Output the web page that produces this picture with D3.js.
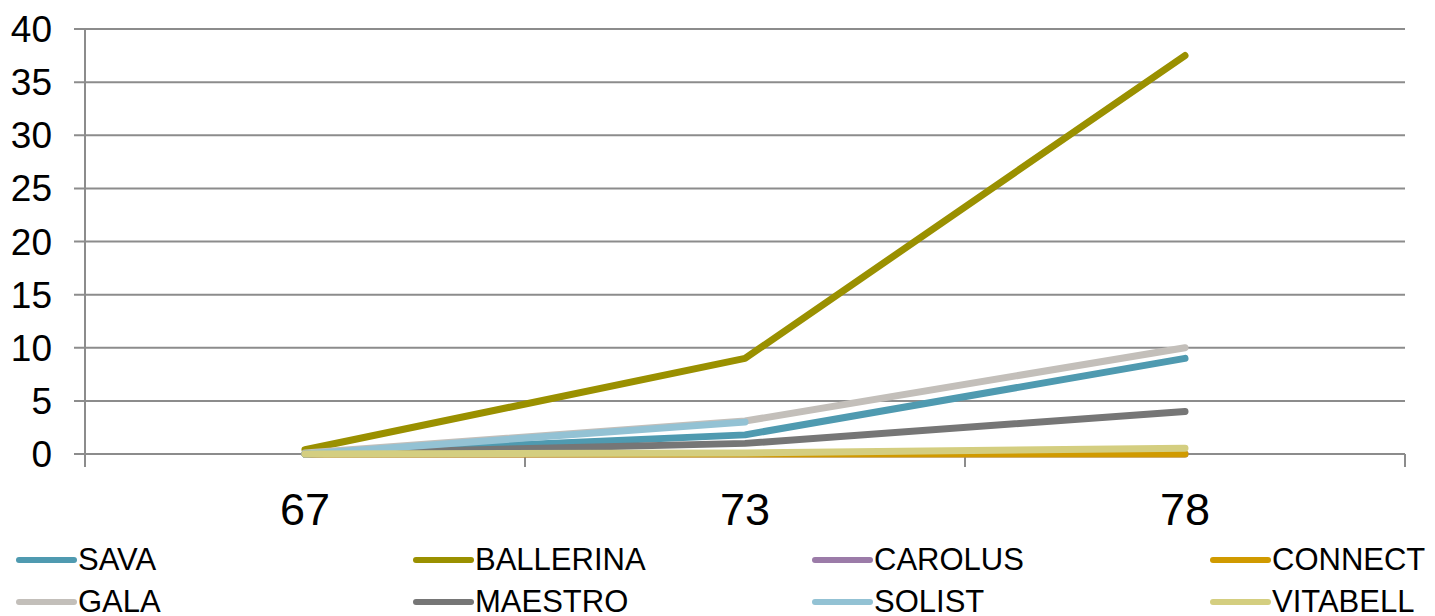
<html>
<head>
<script src="https://d3js.org/d3.v7.min.js"></script>
<style>
  body { margin: 0; background: #fff; }
  text { font-family: "Liberation Sans", Arial, sans-serif; fill: #000; }
</style>
</head>
<body>
<div id="chart"></div>
<script>
// categories on the x axis
const categories = ["67", "73", "78"];

// series, in drawing order
const seriesNames = ["SAVA", "BALLERINA", "CAROLUS", "CONNECT", "GALA", "MAESTRO", "SOLIST", "VITABELL"];
const seriesColors = ["#4f9ab0", "#9a9000", "#9b7ba8", "#d09a00", "#c3bfba", "#767676", "#93c2d4", "#d4ce80"];

const sava      = [0, 1.8, 9];
const ballerina = [0.4, 9, 37.5];
const carolus   = [0, 0, 0];
const connect   = [0, 0, 0];
const gala      = [0.1, 3.1, 10];
const maestro   = [0, 1, 4];
const solist    = [0, 3, null];
const vitabell  = [0, 0.1, 0.55];
const seriesValues = [sava, ballerina, carolus, connect, gala, maestro, solist, vitabell];

const yTicks = [0, 5, 10, 15, 20, 25, 30, 35, 40];

const W = 1435, H = 616;
const plot = { left: 85, right: 1405, top: 29, bottom: 454 };

const svg = d3.select("#chart").append("svg")
  .attr("width", W).attr("height", H);

const x = d3.scaleBand().domain(categories).range([plot.left, plot.right]);
const y = d3.scaleLinear().domain([0, 40]).range([plot.bottom, plot.top]);

// gridlines + y ticks
svg.append("g").selectAll("line")
  .data(yTicks).enter().append("line")
  .attr("x1", plot.left - 11).attr("x2", plot.right)
  .attr("y1", d => y(d)).attr("y2", d => y(d))
  .attr("stroke", "#8c8c8c").attr("stroke-width", 2);

svg.append("g").selectAll("text")
  .data(yTicks).enter().append("text")
  .attr("x", 52).attr("y", d => y(d) + 13)
  .attr("text-anchor", "end")
  .style("font-size", "37px")
  .text(d => d);

// y axis line
svg.append("line")
  .attr("x1", plot.left).attr("x2", plot.left)
  .attr("y1", plot.top).attr("y2", plot.bottom + 8)
  .attr("stroke", "#8c8c8c").attr("stroke-width", 2);

// x tick marks at band edges
const edges = categories.map(c => x(c)).concat([plot.right]);
svg.append("g").selectAll("line")
  .data(edges).enter().append("line")
  .attr("x1", d => d).attr("x2", d => d)
  .attr("y1", plot.bottom).attr("y2", plot.bottom + 13)
  .attr("stroke", "#8c8c8c").attr("stroke-width", 2);

svg.append("g").selectAll("text")
  .data(categories).enter().append("text")
  .attr("x", d => x(d) + x.bandwidth() / 2)
  .attr("y", 525)
  .attr("text-anchor", "middle")
  .style("font-size", "45px")
  .text(d => d);

// lines
const line = d3.line()
  .defined(d => d.v !== null)
  .x(d => x(d.c) + x.bandwidth() / 2)
  .y(d => y(d.v));

seriesNames.forEach((name, i) => {
  const pts = categories.map((c, j) => ({ c: c, v: seriesValues[i][j] }));
  svg.append("path")
    .datum(pts)
    .attr("d", line)
    .attr("fill", "none")
    .attr("stroke", seriesColors[i])
    .attr("stroke-width", 7)
    .attr("stroke-linecap", "round")
    .attr("stroke-linejoin", "round");
});

// legend: 4 columns x 2 rows
const legendCols = [19, 416, 815, 1213];
const legendRows = [560, 602];
const lg = svg.append("g").selectAll("g")
  .data(seriesNames).enter().append("g")
  .attr("transform", (d, i) => "translate(" + legendCols[i % 4] + "," + legendRows[Math.floor(i / 4)] + ")");

lg.append("line")
  .attr("x1", 0).attr("x2", 55).attr("y1", 0).attr("y2", 0)
  .attr("stroke", (d, i) => seriesColors[i])
  .attr("stroke-width", 6)
  .attr("stroke-linecap", "round");

lg.append("text")
  .attr("x", 59).attr("y", 10)
  .style("font-size", "31px")
  .text(d => d);
</script>
</body>
</html>
